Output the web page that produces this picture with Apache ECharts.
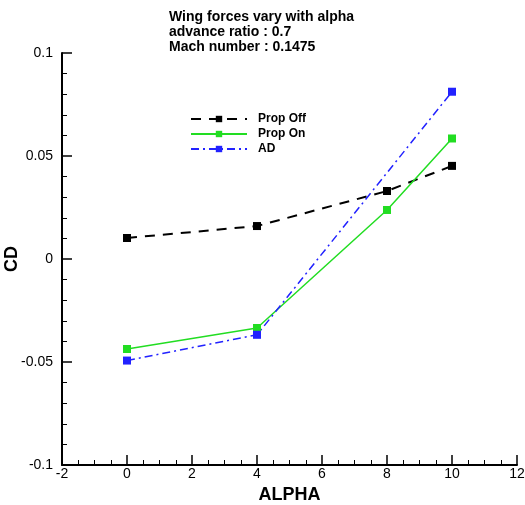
<!DOCTYPE html>
<html><head><meta charset="utf-8">
<script src="https://cdn.jsdelivr.net/npm/echarts@6/dist/echarts.min.js"></script>
<style>html,body{margin:0;padding:0;background:#fff}#c{width:525px;height:505px}</style>
</head><body><div id="c"></div>
<script>
const alpha = [0, 4, 8, 10];
const propOff = [0.0102, 0.0160, 0.0330, 0.0452];
const propOn = [-0.0437, -0.0335, 0.0238, 0.0585];
const alphaAD = [0, 4, 10];
const ad = [-0.0493, -0.0368, 0.0812];
const titleLines = ['Wing forces vary with alpha', 'advance ratio : 0.7', 'Mach number : 0.1475'];

const pair = (xs, ys) => xs.map((x, i) => [x, ys[i]]);
const font = 'Liberation Sans, Arial, sans-serif';
const chart = echarts.init(document.getElementById('c'));
chart.setOption({
  animation: false,
  title: {
    text: titleLines.join('\n'), left: 164, top: 5,
    textStyle: { fontSize: 14, fontWeight: 'bold', color: '#000', fontFamily: font, lineHeight: 15 }
  },
  legend: {
    orient: 'vertical', left: 185, top: 108, itemWidth: 56, itemHeight: 8, itemGap: 3,
    textStyle: { fontSize: 12, fontWeight: 'bold', color: '#000', fontFamily: font, padding: [0, 0, 0, 6] },
    data: ['Prop Off', 'Prop On', 'AD']
  },
  grid: { left: 62, right: 8, top: 53, bottom: 40, outerBoundsMode: 'none', containLabel: false },
  xAxis: {
    type: 'value', min: -2, max: 12, interval: 2,
    name: 'ALPHA', nameLocation: 'middle', nameGap: 21, nameMoveOverlap: false,
    nameTextStyle: { fontSize: 18, fontWeight: 'bold', color: '#000', fontFamily: font },
    axisLine: { onZero: false, lineStyle: { color: '#000', width: 2 } },
    axisTick: { inside: true, length: 10, lineStyle: { color: '#000', width: 1.5 } },
    minorTick: { show: true, splitNumber: 4, length: 5, lineStyle: { color: '#000' } },
    axisLabel: { fontSize: 14, color: '#000', fontFamily: font, margin: 2 },
    splitLine: { show: false }
  },
  yAxis: {
    type: 'value', min: -0.1, max: 0.1, interval: 0.05,
    name: 'CD', nameLocation: 'middle', nameGap: 41, nameRotate: 90, nameMoveOverlap: false,
    nameTextStyle: { fontSize: 18, fontWeight: 'bold', color: '#000', fontFamily: font },
    axisLine: { onZero: false, lineStyle: { color: '#000', width: 2 } },
    axisTick: { inside: true, length: 10, lineStyle: { color: '#000', width: 1.5 } },
    minorTick: { show: true, splitNumber: 5, length: 5, lineStyle: { color: '#000' } },
    axisLabel: { fontSize: 14, color: '#000', fontFamily: font, margin: 9 },
    splitLine: { show: false }
  },
  series: [
    { name: 'Prop Off', type: 'line', data: pair(alpha, propOff), symbol: 'rect', symbolSize: 8,
      itemStyle: { color: '#000' }, lineStyle: { color: '#000', width: 2, type: [10, 8] } },
    { name: 'Prop On', type: 'line', data: pair(alpha, propOn), symbol: 'rect', symbolSize: 8,
      itemStyle: { color: '#22dd22' }, lineStyle: { color: '#22dd22', width: 1.5 } },
    { name: 'AD', type: 'line', data: pair(alphaAD, ad), symbol: 'rect', symbolSize: 8,
      itemStyle: { color: '#2222ff' }, lineStyle: { color: '#2222ff', width: 1.5, type: [8, 4, 2, 4] } }
  ]
});
</script></body></html>
